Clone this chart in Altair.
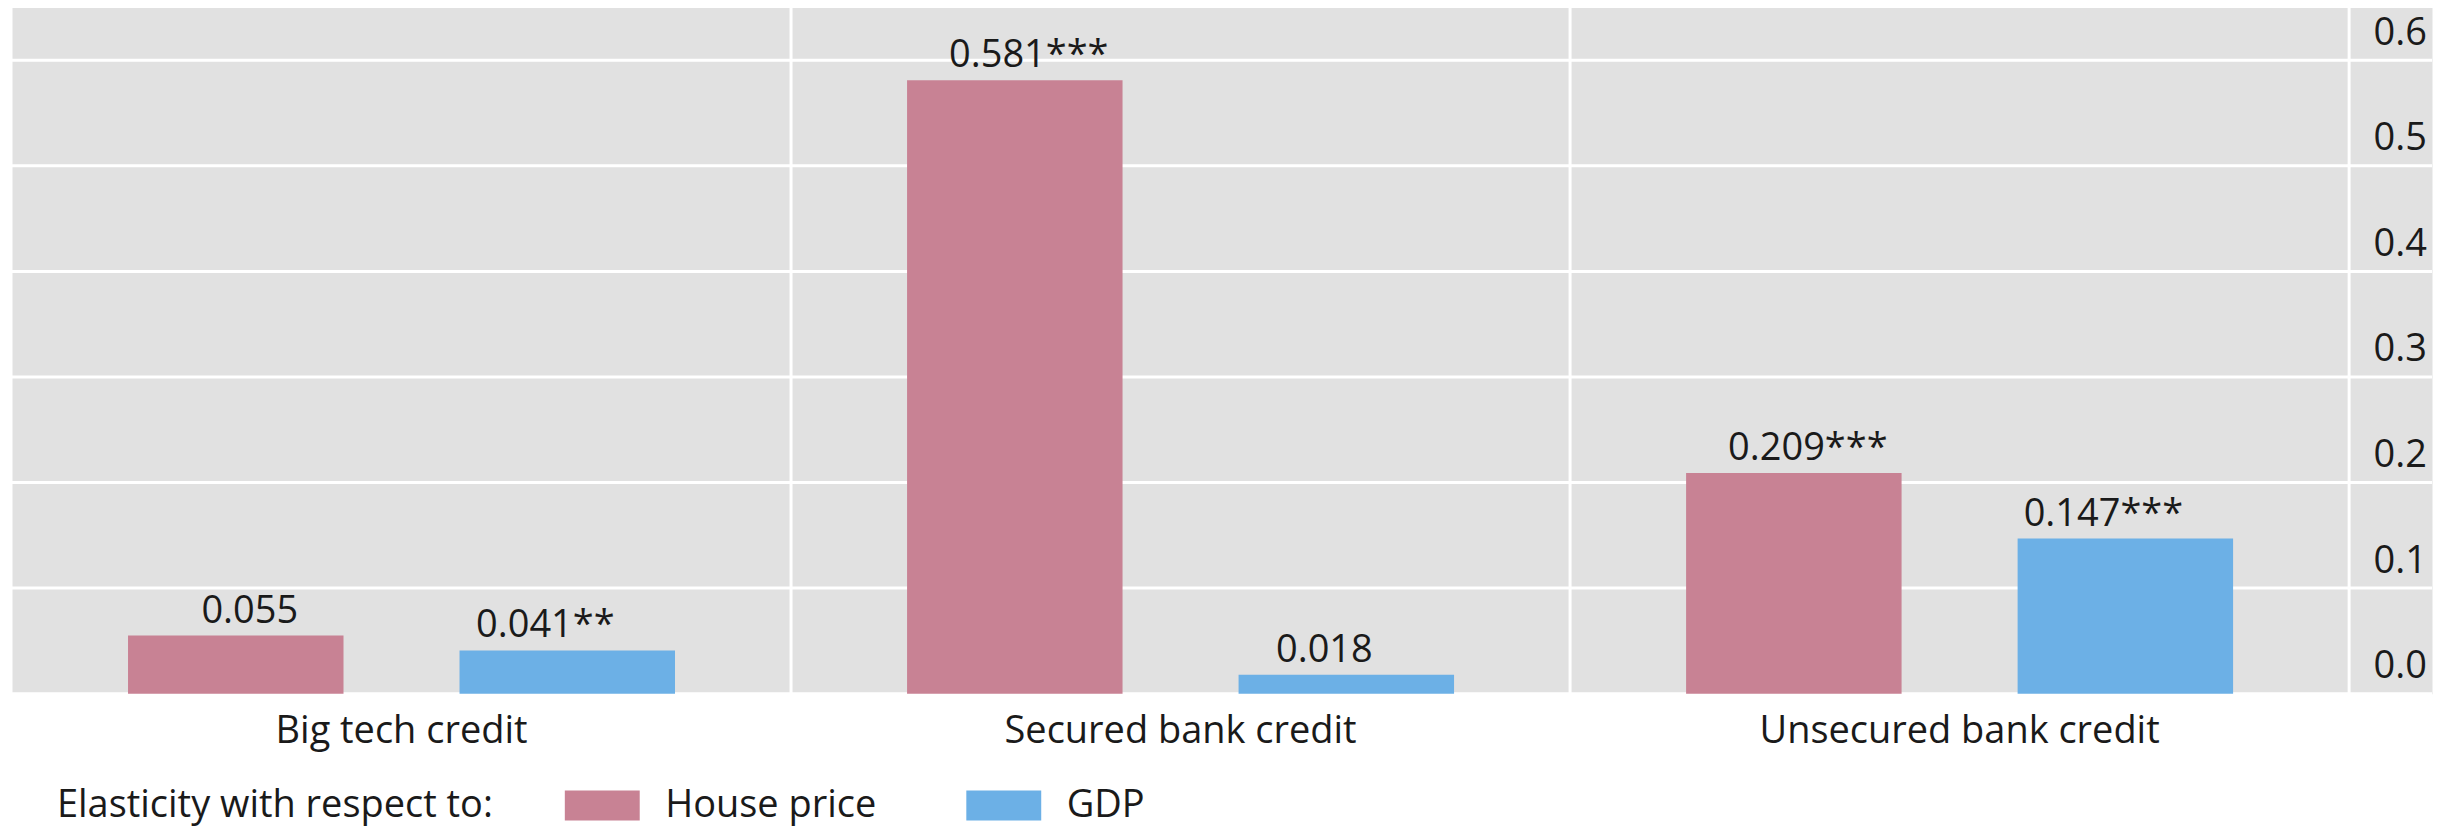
import altair as alt
import pandas as pd

categories = ["Big tech credit", "Secured bank credit", "Unsecured bank credit"]
series = ["House price", "GDP"]
house_price = [0.055, 0.581, 0.209]
gdp = [0.041, 0.018, 0.147]
house_labels = ["0.055", "0.581***", "0.209***"]
gdp_labels = ["0.041**", "0.018", "0.147***"]
y_ticks = [0.0, 0.1, 0.2, 0.3, 0.4, 0.5, 0.6]
colors = ["#c88294", "#6cb0e6"]

rows = []
for i, c in enumerate(categories):
    rows.append({"category": c, "series": series[0], "value": house_price[i], "label": house_labels[i]})
    rows.append({"category": c, "series": series[1], "value": gdp[i], "label": gdp_labels[i]})
df = pd.DataFrame(rows)
cat_df = pd.DataFrame({"category": categories})
tick_df = pd.DataFrame({"value": y_ticks})

FONT = "Open Sans"
FS = 38
TXT = "#1a1a1a"
W_BARS = 2340
W_VIEW = 2423
H = 687

xscale = alt.Scale(domain=categories, range=[0, W_BARS], paddingInner=0, paddingOuter=0)
xaxis = alt.Axis(title=None, orient="bottom", domain=False, ticks=False, grid=False,
                 labelPadding=19, labelFontSize=FS, labelFont=FONT, labelColor=TXT,
                 labelAngle=0, labelLimit=1000)
x = alt.X("category:N", sort=categories, scale=xscale, axis=xaxis)
xoff = alt.XOffset("series:N", sort=series,
                   scale=alt.Scale(domain=series, paddingInner=0.35, paddingOuter=0.35))
yscale = alt.Scale(domain=[0, 0.65], nice=False, zero=True)
yaxis = alt.Axis(title=None, orient="right", values=y_ticks, format=".1f",
                 domain=False, ticks=False, grid=False, labelPadding=-59, labelOffset=-27,
                 labelFontSize=FS, labelFont=FONT, labelColor=TXT, labelAlign="left")
y = alt.Y("value:Q", scale=yscale, axis=yaxis)

color = alt.Color("series:N", sort=series, scale=alt.Scale(domain=series, range=colors),
                  legend=alt.Legend(title="Elasticity with respect to:", orient="none",
                                    legendX=45, legendY=780, direction="horizontal",
                                    titleOrient="left", titleFontSize=FS, titleFont=FONT,
                                    titleFontWeight="normal", titleColor=TXT,
                                    titleBaseline="middle", titleLimit=1000,
                                    labelFontSize=FS, labelFont=FONT, labelColor=TXT,
                                    labelLimit=1000,
                                    symbolType="M-2.5,-1h5v2h-5z", symbolSize=900,
                                    symbolStrokeWidth=0, symbolOpacity=1,
                                    labelOffset=44, columnPadding=89, titlePadding=90))

grid = alt.Chart(tick_df).mark_rule(color="white", strokeWidth=3).encode(
    y=alt.Y("value:Q", scale=yscale, axis=yaxis))
rules = alt.Chart(cat_df).mark_rule(color="white", strokeWidth=3).encode(
    x=alt.X("category:N", sort=categories, scale=xscale, bandPosition=1, axis=xaxis))
bars = alt.Chart(df).mark_bar(opacity=1).encode(x=x, xOffset=xoff, y=y, color=color)
text_house = alt.Chart(df).transform_filter(alt.datum.series == series[0]).mark_text(
    baseline="alphabetic", dy=-13, dx=14, fontSize=FS, font=FONT, color=TXT
).encode(x=x, xOffset=xoff, y=y, text="label:N")
text_gdp = alt.Chart(df).transform_filter(alt.datum.series == series[1]).mark_text(
    baseline="alphabetic", dy=-13, dx=-22, fontSize=FS, font=FONT, color=TXT
).encode(x=x, xOffset=xoff, y=y, text="label:N")

chart = alt.layer(grid, rules, bars, text_house, text_gdp).properties(
    width=W_VIEW, height=H,
    padding={"left": 2, "top": -3, "right": 8, "bottom": 12},
).configure_view(fill="#e1e1e1", stroke="transparent")

chart.save("out.html", embed_options={"renderer": "svg", "actions": False})
